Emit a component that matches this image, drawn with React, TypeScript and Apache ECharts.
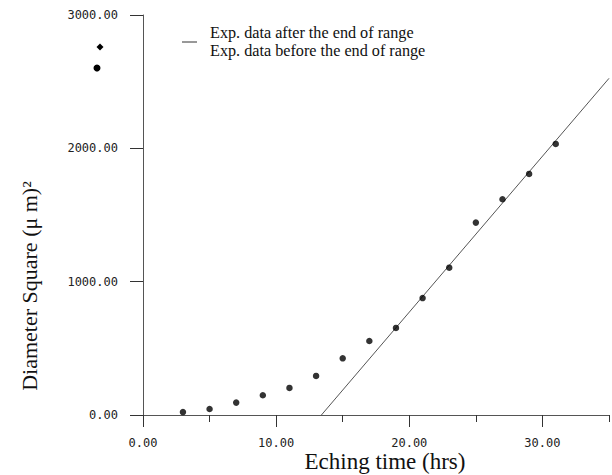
import React, { useEffect, useRef } from "react";
import * as echarts from "echarts";

// Experimental data (hours, diameter square in µm²)
const timeHours = [3, 5, 7, 9, 11, 13, 15, 17, 19, 21, 23, 25, 27, 29, 31];
const diameterSq = [22, 45, 93, 148, 203, 293, 425, 555, 653, 877, 1105, 1443, 1618, 1808, 2033];

// Fitted straight line (after the end of range)
const fitX = [13.4, 35];
const fitY = [0, 2525];

// Axis ticks
const xMajorTicks = [0, 10, 20, 30];
const xMinorTicks = [5, 15, 25, 35];

const legendLabels = ["Exp. data after the end of range", "Exp. data before the end of range"];
const xTitle = "Eching time (hrs)";
const yTitle = "Diameter Square (μ m)²";

export default function App() {
  const ref = useRef<HTMLDivElement>(null);

  useEffect(() => {
    if (!ref.current) return;
    const chart = echarts.init(ref.current, null, { renderer: "svg" });
    const tickFont = {
      fontFamily: "DejaVu Sans Mono",
      fontSize: 12,
      color: "#222",
    };
    const option: any = {
      animation: false,
      backgroundColor: "#fff",
      grid: {
        left: 143,
        top: 15,
        width: 466,
        height: 400,
        containLabel: false,
        outerBoundsMode: "none",
      },
      xAxis: [
        {
          type: "value",
          min: 0,
          max: 35,
          interval: 10,
          splitLine: { show: false },
          axisLine: { show: true, lineStyle: { color: "#555", width: 1 } },
          axisTick: { show: true, length: 12, customValues: xMajorTicks, lineStyle: { color: "#333" } },
          axisLabel: {
            ...tickFont,
            margin: 22,
            customValues: xMajorTicks,
            formatter: (v: number) => v.toFixed(2),
          },
          name: xTitle,
          nameLocation: "middle",
          nameGap: 34,
          nameMoveOverlap: false,
          nameTextStyle: {
            fontFamily: "Liberation Serif",
            fontSize: 23,
            lineHeight: 24,
            color: "#111",
            padding: [0, 0, 0, 18],
          },
        },
        {
          type: "value",
          min: 0,
          max: 35,
          position: "bottom",
          splitLine: { show: false },
          axisLine: { show: false },
          axisTick: { show: true, length: 7, customValues: xMinorTicks, lineStyle: { color: "#333" } },
          axisLabel: { show: false },
        },
      ],
      yAxis: {
        type: "value",
        min: 0,
        max: 3000,
        interval: 1000,
        splitLine: { show: false },
        axisLine: { show: true, lineStyle: { color: "#555", width: 1 } },
        axisTick: { show: true, length: 13, lineStyle: { color: "#333" } },
        axisLabel: {
          ...tickFont,
          margin: 25,
          formatter: (v: number) => v.toFixed(2),
        },
      },
      series: [
        {
          name: legendLabels[0],
          type: "line",
          xAxisIndex: 0,
          data: fitX.map((x, i) => [x, fitY[i]]),
          showSymbol: false,
          lineStyle: { color: "#555", width: 1 },
          z: 2,
        },
        {
          name: legendLabels[1],
          type: "scatter",
          xAxisIndex: 0,
          data: timeHours.map((x, i) => [x, diameterSq[i]]),
          symbol: "circle",
          symbolSize: 6.5,
          itemStyle: { color: "#000" },
          z: 3,
        },
      ],
      graphic: [
        {
          type: "line",
          shape: { x1: 182, y1: 42, x2: 197, y2: 42 },
          style: { stroke: "#333", lineWidth: 1 },
        },
        {
          type: "text",
          x: 210,
          y: 33,
          style: {
            text: legendLabels[0],
            fontFamily: "Liberation Serif",
            fontSize: 16.2,
            fill: "#111",
            align: "left",
            verticalAlign: "middle",
          },
        },
        {
          type: "text",
          x: 210,
          y: 51,
          style: {
            text: legendLabels[1],
            fontFamily: "Liberation Serif",
            fontSize: 16.2,
            fill: "#111",
            align: "left",
            verticalAlign: "middle",
          },
        },
        {
          type: "polygon",
          shape: { points: [[100, 43.5], [103.5, 47], [100, 50.5], [96.5, 47]] },
          style: { fill: "#000" },
        },
        {
          type: "circle",
          shape: { cx: 97, cy: 68, r: 3.5 },
          style: { fill: "#000" },
        },
        {
          type: "text",
          x: 29,
          y: 286,
          rotation: Math.PI / 2,
          style: {
            text: yTitle,
            fontFamily: "Liberation Serif",
            fontSize: 22,
            fill: "#111",
            align: "center",
            verticalAlign: "middle",
          },
        },
      ],
    };
    chart.setOption(option);
    return () => chart.dispose();
  }, []);

  return (
    <div
      ref={ref}
      style={{ position: "fixed", left: 0, top: 0, width: 612, height: 475, background: "#fff" }}
    />
  );
}
